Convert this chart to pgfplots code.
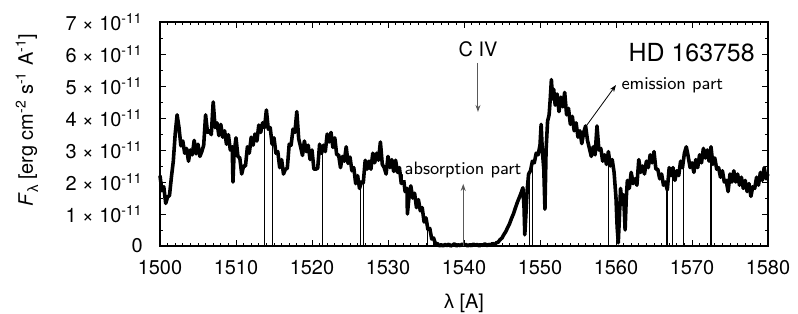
\documentclass[border=0pt]{standalone}
\usepackage{fontspec}
\setmainfont{TeX Gyre Heros}
\newfontfamily\lam{Liberation Sans}
\usepackage{pgfplots}
\pgfplotsset{compat=1.18}
\usetikzlibrary{arrows.meta}
\begin{document}
\begin{tikzpicture}
\path[use as bounding box] (-80bp,-34bp) rectangle (319bp,123bp);
\begin{axis}[
  at={(0,0)}, anchor=south west,
  scale only axis, width=304bp, height=112bp,
  xmin=1500, xmax=1580, ymin=0, ymax=7,
  xtick={1500,1510,...,1580},
  minor x tick num=9,
  ytick={0,1,...,7},
  minor y tick num=1,
  yticklabels={{0\hspace{11.5bp}},
    {1 × 10\textsuperscript{-11}},{2 × 10\textsuperscript{-11}},{3 × 10\textsuperscript{-11}},
    {4 × 10\textsuperscript{-11}},{5 × 10\textsuperscript{-11}},{6 × 10\textsuperscript{-11}},
    {7 × 10\textsuperscript{-11}}},
  tick align=inside,
  major tick length=3bp, minor tick length=1.6bp,
  axis line style={line width=0.6pt},
  every tick/.style={line width=0.5pt, black},
  /pgf/number format/.cd, 1000 sep={}, assume math mode=true,
  /pgfplots/.cd,
  ticklabel style={font=\fontsize{10}{12}\selectfont},
  yticklabel style={inner sep=0pt, anchor=east, xshift=-8.5bp},
  xticklabel style={inner sep=0pt, anchor=north, yshift=-7bp},
  clip=false,
]
\addplot[black, line width=1.8pt, line join=round] table {
1500.00 2.20
1500.25 1.73
1500.50 1.85
1500.75 1.33
1501.00 1.53
1501.25 1.58
1501.50 2.15
1501.75 2.65
1502.00 3.50
1502.25 4.10
1502.50 3.70
1502.75 3.13
1503.00 3.28
1503.25 2.90
1503.50 3.05
1503.75 2.65
1504.00 3.00
1504.25 2.85
1504.50 3.30
1504.75 2.88
1505.00 3.18
1505.25 2.80
1505.50 2.95
1505.75 3.15
1506.00 4.10
1506.25 3.55
1506.50 3.60
1506.75 3.48
1507.00 4.50
1507.25 3.70
1507.50 3.85
1507.75 3.45
1508.00 3.80
1508.25 3.40
1508.50 3.60
1508.75 3.18
1509.00 3.48
1509.25 3.00
1509.50 3.10
1509.60 2.00
1509.75 2.90
1510.00 3.38
1510.25 2.80
1510.50 2.75
1510.75 2.25
1511.00 2.50
1511.25 2.50
1511.50 3.10
1511.75 2.90
1512.00 3.40
1512.25 3.15
1512.50 3.50
1512.75 3.28
1513.00 3.78
1513.25 3.55
1513.50 3.85
1513.75 3.70
1514.00 4.25
1514.25 3.65
1514.50 3.70
1514.75 3.18
1515.00 3.38
1515.25 2.90
1515.50 2.95
1515.75 2.45
1516.00 2.70
1516.25 2.25
1516.50 2.40
1516.75 2.43
1517.00 3.18
1517.25 3.15
1517.50 3.65
1517.75 3.55
1518.00 4.20
1518.25 3.35
1518.50 3.10
1518.75 2.83
1519.00 3.28
1519.25 2.95
1519.50 3.15
1519.75 2.70
1520.00 3.00
1520.25 2.40
1520.50 2.40
1520.75 2.43
1521.00 3.18
1521.25 2.90
1521.50 3.15
1521.75 2.95
1522.00 3.50
1522.25 3.25
1522.50 3.55
1522.75 3.08
1523.00 3.38
1523.25 2.85
1523.50 2.85
1523.75 2.45
1524.00 2.80
1524.25 2.65
1524.50 3.10
1524.75 2.58
1525.00 2.78
1525.25 2.35
1525.50 2.45
1525.75 1.95
1526.00 2.20
1526.25 1.80
1526.50 2.00
1526.75 1.98
1527.00 2.68
1527.25 2.40
1527.50 2.65
1527.75 2.40
1528.00 2.90
1528.25 2.60
1528.50 2.90
1528.75 2.68
1529.00 3.25
1529.25 2.55
1529.50 2.45
1529.75 2.25
1530.00 2.80
1530.25 2.45
1530.50 2.70
1530.75 2.33
1531.00 2.68
1531.25 2.30
1531.50 2.45
1531.75 1.95
1532.00 2.20
1532.25 1.70
1532.50 1.80
1532.55 1.00
1532.75 1.50
1533.00 1.88
1533.25 1.50
1533.50 1.65
1533.75 1.20
1534.00 1.45
1534.25 1.10
1534.50 1.20
1534.75 0.75
1535.00 0.88
1535.25 0.52
1535.50 0.55
1535.75 0.22
1536.00 0.25
1536.25 0.06
1536.50 0.08
1536.75 0.00
1537.00 0.04
1537.25 0.00
1537.50 0.05
1537.75 0.01
1538.00 0.06
1538.25 0.00
1538.50 0.03
1538.75 0.07
1539.00 0.00
1539.25 0.04
1539.50 0.01
1539.75 0.06
1540.00 0.02
1540.25 0.05
1540.50 0.00
1540.75 0.04
1541.00 0.01
1541.25 0.06
1541.50 0.02
1541.75 0.05
1542.00 0.00
1542.25 0.04
1542.50 0.02
1542.75 0.07
1543.00 0.01
1543.25 0.05
1543.50 0.03
1543.75 0.08
1544.00 0.04
1544.25 0.10
1544.50 0.12
1544.75 0.20
1545.00 0.25
1545.25 0.36
1545.50 0.45
1545.75 0.58
1546.00 0.70
1546.25 0.86
1546.50 1.00
1546.75 1.18
1547.00 1.35
1547.25 1.50
1547.50 1.65
1547.75 1.82
1547.90 1.20
1548.00 0.35
1548.15 1.00
1548.30 1.70
1548.50 2.25
1548.75 2.35
1549.00 2.65
1549.25 2.60
1549.50 2.90
1549.75 2.85
1550.00 3.15
1550.15 3.80
1550.30 3.00
1550.50 2.40
1550.65 1.15
1550.80 3.00
1551.00 3.90
1551.20 4.10
1551.35 4.60
1551.50 5.20
1551.65 4.60
1551.80 4.90
1552.00 4.40
1552.25 4.75
1552.50 4.20
1552.75 4.65
1553.00 4.35
1553.25 4.80
1553.50 4.10
1553.75 4.30
1554.00 3.80
1554.25 4.05
1554.50 3.60
1554.75 3.85
1555.00 3.40
1555.25 3.60
1555.50 3.20
1555.75 3.55
1556.00 3.75
1556.25 3.30
1556.50 3.05
1556.75 2.80
1557.00 3.10
1557.25 2.85
1557.50 3.75
1557.75 3.00
1558.00 3.05
1558.25 2.65
1558.50 2.85
1558.75 2.55
1559.00 2.95
1559.25 2.50
1559.50 2.70
1559.75 2.30
1560.00 1.50
1560.15 0.60
1560.30 0.10
1560.45 0.90
1560.60 1.80
1560.80 1.30
1561.00 1.60
1561.20 0.50
1561.35 1.50
1561.50 2.05
1561.75 1.80
1562.00 2.30
1562.25 1.95
1562.50 2.10
1562.75 1.90
1563.00 2.70
1563.25 2.30
1563.50 2.50
1563.75 2.25
1564.00 2.65
1564.25 2.45
1564.50 2.85
1564.75 2.60
1565.00 2.95
1565.25 2.40
1565.50 2.40
1565.75 2.10
1566.00 2.25
1566.25 1.90
1566.50 2.00
1566.75 1.75
1567.00 2.45
1567.25 2.20
1567.50 2.45
1567.75 2.05
1568.00 2.35
1568.25 2.20
1568.50 2.65
1568.75 2.45
1569.00 2.90
1569.25 3.10
1569.50 2.80
1569.75 2.45
1570.00 2.60
1570.25 2.30
1570.50 2.70
1570.75 2.45
1571.00 2.85
1571.25 2.60
1571.50 3.05
1571.75 2.75
1572.00 3.00
1572.25 2.65
1572.50 3.10
1572.75 2.55
1573.00 2.75
1573.25 2.40
1573.50 2.45
1573.75 2.15
1574.00 2.35
1574.25 2.00
1574.50 2.05
1574.75 1.70
1575.00 2.25
1575.25 2.00
1575.50 2.35
1575.75 2.00
1576.00 2.25
1576.25 1.90
1576.50 2.15
1576.75 1.80
1577.00 2.05
1577.25 1.70
1577.50 1.95
1577.75 1.55
1578.00 1.85
1578.25 1.80
1578.50 2.15
1578.75 1.90
1579.00 2.30
1579.25 2.05
1579.50 2.45
1579.75 2.10
1580.00 2.25
};
\addplot[black, line width=0.6pt, ycomb, mark=none] coordinates {
(1513.7,3.7) (1514.8,3.5) (1521.4,3.0) (1526.4,2.0) (1526.8,1.95)
(1535.2,0.8) (1548.6,2.2) (1549.0,2.6) (1559.0,2.9) (1566.7,1.9)
(1567.4,2.3) (1568.9,2.8) (1572.5,3.0)
};
\node[font=\fontsize{10}{12}\selectfont] at (axis cs:1541.84,6.16) {C IV};
\draw[gray!70!black, line width=0.5pt, -{Stealth[length=3.5bp,width=2.5bp]}] (axis cs:1541.84,5.72) -- (axis cs:1541.84,4.19);
\node[font=\fontsize{12.5}{14}\selectfont, anchor=east, inner sep=0pt] at (axis cs:1578.3,6.03) {HD 163758};
\node[font=\fontsize{9}{10}\sffamily] at (axis cs:1567.4,5.03) {emission part};
\draw[black, line width=0.4pt, -{Stealth[length=3.5bp,width=2.5bp]}] (axis cs:1555.9,3.69) -- (axis cs:1560.0,5.03);
\node[font=\fontsize{9}{10}\sffamily, fill=white, inner sep=1pt] at (axis cs:1539.87,2.37) {absorption part};
\draw[gray!70!black, line width=0.5pt, -{Stealth[length=3.5bp,width=2.5bp]}] (axis cs:1539.9,0) -- (axis cs:1539.9,1.94);
\end{axis}
\node[rotate=90, font=\fontsize{10}{12}\selectfont] at (-66.5bp,63bp) {\textit{F}\raisebox{-0.5ex}{\fontsize{7.5}{8}\selectfont\lam λ} [erg cm\textsuperscript{-2} s\textsuperscript{-1} A\textsuperscript{-1}]};
\node[font=\fontsize{10}{12}\selectfont, anchor=north, inner sep=0pt] at (152bp,-23.8bp) {{\lam λ} [A]};
\end{tikzpicture}
\end{document}
